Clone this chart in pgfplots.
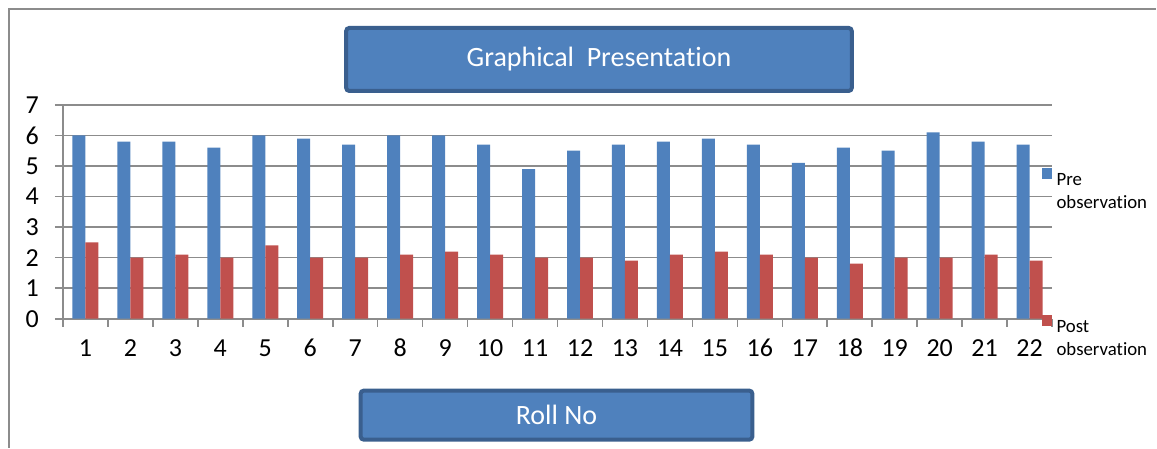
\documentclass[border=0pt]{standalone}
\usepackage{pgfplots}
\pgfplotsset{compat=1.18}
\usepackage{fontspec}
\setmainfont[Ligatures={NoCommon,NoContextual}]{Carlito}

\definecolor{preblue}{HTML}{4F81BD}
\definecolor{postred}{HTML}{C0504D}
\definecolor{boxedge}{HTML}{3A5F8E}
\definecolor{gridgray}{HTML}{8C8C8C}

% one value per roll number
\pgfplotstableread{
roll pre  post
1    6.0  2.5
2    5.8  2.0
3    5.8  2.1
4    5.6  2.0
5    6.0  2.4
6    5.9  2.0
7    5.7  2.0
8    6.0  2.1
9    6.0  2.2
10   5.7  2.1
11   4.9  2.0
12   5.5  2.0
13   5.7  1.9
14   5.8  2.1
15   5.9  2.2
16   5.7  2.1
17   5.1  2.0
18   5.6  1.8
19   5.5  2.0
20   6.1  2.0
21   5.8  2.1
22   5.7  1.9
}\scores

\begin{document}
\begin{tikzpicture}
\begin{axis}[
    at={(0pt,0pt)}, anchor=south west,
    scale only axis,
    width=495pt, height=107pt,
    ybar=0pt, bar width=6.5pt,
    xmin=0.5, xmax=22.5,
    ymin=0, ymax=7,
    ytick={0,...,7},
    xtick={0.5,1.5,...,22.5},
    xticklabels={},
    extra x ticks={1,...,22},
    extra x tick style={tick style={draw=none}},
    major tick length=4pt,
    tick align=outside,
    tick style={gridgray, line width=0.8pt},
    axis x line*=bottom, axis y line*=left,
    axis line style={gridgray, line width=0.8pt, -},
    ymajorgrids,
    grid style={gridgray, line width=0.8pt},
    /pgf/number format/assume math mode=true,
    tick label style={font=\fontsize{13}{15}\selectfont, black},
    yticklabel style={xshift=-4.5pt},
    xticklabel style={yshift=-2.5pt, text height=9pt, text depth=0pt},
    legend style={at={(0.989,0.705)}, anchor=north west, draw=none, fill=none,
        inner sep=0pt, column sep=2.5pt, row sep=63pt,
        nodes={inner sep=0pt}, font=\fontsize{9.4}{11.5}\selectfont},
    legend cell align=left,
    legend image code/.code={\fill[#1] (0pt,0pt) rectangle (5pt,5.5pt);},
]
\addplot[fill=preblue, draw=none] table[x=roll, y=pre] {\scores};
\addplot[fill=postred, draw=none] table[x=roll, y=post] {\scores};
\legend{\begin{tabular}[t]{@{}l@{}}Pre\\observation\end{tabular},
        \begin{tabular}[t]{@{}l@{}}Post\\observation\end{tabular}}
\end{axis}

% chart frame
\draw[gridgray, line width=1pt] (-27pt,-64.5pt) -- (-27pt,155pt) -- (547pt,155pt);

% title and axis-title boxes
\node[fill=preblue, draw=boxedge, line width=2pt, rounded corners=1.5pt,
      minimum width=253pt, minimum height=31.5pt, text=white,
      font=\fontsize{14}{16}\selectfont] at (268.25pt,129.75pt) {Graphical\ \ Presentation};
\node[fill=preblue, draw=boxedge, line width=2pt, rounded corners=1.5pt,
      minimum width=196pt, minimum height=24.5pt, text=white,
      font=\fontsize{14}{16}\selectfont] at (247pt,-48.25pt) {Roll No};

\useasboundingbox (-31.5pt,-64.5pt) rectangle (547pt,159.5pt);
\end{tikzpicture}
\end{document}
